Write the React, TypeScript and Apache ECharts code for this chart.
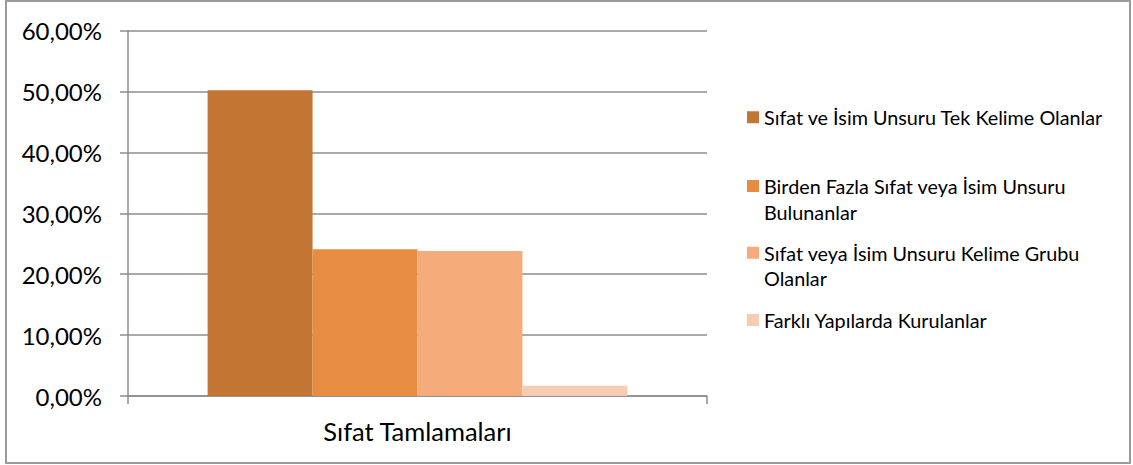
import React, { useEffect, useRef } from "react";
import * as echarts from "echarts";

const categories = ["Sıfat Tamlamaları"];
const seriesNames = [
  "Sıfat ve İsim Unsuru Tek Kelime Olanlar",
  "Birden Fazla Sıfat veya İsim Unsuru Bulunanlar",
  "Sıfat veya İsim Unsuru Kelime Grubu Olanlar",
  "Farklı Yapılarda Kurulanlar",
];
const legendLabels = [
  "Sıfat ve İsim Unsuru Tek Kelime Olanlar",
  "\nBirden Fazla Sıfat veya İsim Unsuru\nBulunanlar",
  "\nSıfat veya İsim Unsuru Kelime Grubu\nOlanlar",
  "Farklı Yapılarda Kurulanlar",
];
const seriesValues = [50.2, 24.1, 23.8, 1.7];
const seriesColors = ["#C37534", "#E68D42", "#F6AB7B", "#F8CBB3"];
const legendTops = [104.5, 147.75, 214.5, 307.25];

const FONT = "Lato";

export default function App() {
  const ref = useRef<HTMLDivElement>(null);
  useEffect(() => {
    if (!ref.current) return;
    const chart = echarts.init(ref.current, undefined, { renderer: "svg" });
    const option: any = {
      animation: false,
      backgroundColor: "#ffffff",
      textStyle: { fontFamily: FONT },
      graphic: [
        {
          type: "rect",
          shape: { x: 6, y: 1, width: 1124, height: 462 },
          style: { fill: "none", stroke: "#9a9a9a", lineWidth: 2 },
          silent: true,
        },
      ],
      grid: { left: 128, right: 426, top: 30.7, bottom: 69, containLabel: false },
      legend: seriesNames.map((n, i) => ({
        data: [n],
        left: 747,
        top: legendTops[i],
        orient: "vertical",
        itemWidth: 12,
        itemHeight: 12,
        icon: "rect",
        selectedMode: false,
        padding: 0,
        formatter: () => legendLabels[i],
        textStyle: {
          fontFamily: FONT,
          fontSize: 19.8,
          color: "#000",
          lineHeight: 25.5,
        },
      })),
      xAxis: {
        type: "category",
        data: categories,
        axisLine: { lineStyle: { color: "#8c8c8c", width: 1.5 } },
        axisTick: { show: true, length: 8, lineStyle: { color: "#8c8c8c", width: 1.5 } },
        axisLabel: { fontFamily: FONT, fontSize: 25.5, color: "#000", margin: 22 },
      },
      yAxis: {
        type: "value",
        min: 0,
        max: 60,
        interval: 10,
        axisLine: { show: true, lineStyle: { color: "#8c8c8c", width: 1.5 } },
        axisTick: { show: true, length: 8, lineStyle: { color: "#8c8c8c", width: 1.5 } },
        splitLine: { lineStyle: { color: "#8c8c8c", width: 1.5 } },
        axisLabel: {
          fontFamily: FONT,
          fontSize: 24,
          color: "#000",
          margin: 26,
          formatter: (v: number) => v.toFixed(2).replace(".", ",") + "%",
        },
      },
      series: seriesNames.map((n, i) => ({
        name: n,
        type: "bar",
        data: [seriesValues[i]],
        barGap: "0%",
        barCategoryGap: "27.5%",
        itemStyle: { color: seriesColors[i] },
      })),
    };
    chart.setOption(option);
    return () => chart.dispose();
  }, []);
  return (
    <div
      ref={ref}
      style={{ position: "absolute", left: 0, top: 0, width: 1133, height: 465 }}
    />
  );
}
